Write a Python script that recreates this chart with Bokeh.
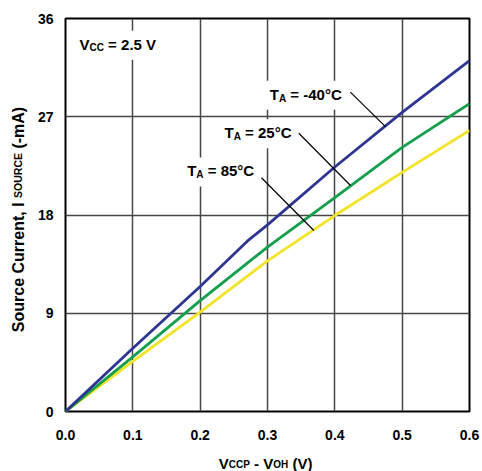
import math
from bokeh.plotting import figure
from bokeh.layouts import row, column
from bokeh.models import Range1d, Label, BoxAnnotation, FixedTicker, PrintfTickFormatter
from bokeh.embed import file_html
from bokeh.resources import INLINE

# ---------------- data ----------------
v_diff = [0.0, 0.1, 0.2, 0.27, 0.3, 0.4, 0.5, 0.6]
i_m40 = [0.0, 5.8, 11.45, 15.6, 17.1, 22.4, 27.4, 32.15]
i_25 = [0.0, 5.0, 10.15, 13.6, 15.05, 19.6, 24.2, 28.2]
i_85 = [0.0, 4.6, 9.1, 12.4, 13.8, 17.95, 21.9, 25.75]
x_ticks = [0.0, 0.1, 0.2, 0.3, 0.4, 0.5, 0.6]
y_ticks = [0, 9, 18, 27, 36]

# leader lines (data coords): start near label, end on curve
lead_x0 = [0.423, 0.3465, 0.291]
lead_y0 = [29.25, 25.49, 21.41]
lead_x1 = [0.4752, 0.4233, 0.3688]
lead_y1 = [26.1, 20.7, 16.58]

FONT = "Liberation Sans"
BLUE = "#2E3593"
GREEN = "#139F4C"
YELLOW = "#F3E42A"

FRAME_W, FRAME_H = 404, 393
X_PX = FRAME_W / 0.6
Y_PX = FRAME_H / 36.0

LEFT_W = 28
MAIN_W, MAIN_H = 454, 448
XT_H = 23
TOTAL_H = MAIN_H + XT_H
BORDER_L = 65 - LEFT_W
BORDER_R = MAIN_W - BORDER_L - FRAME_W


def base_fix(size):
    # Bokeh draws alphabetic-baseline text about 0.3 em lower than the anchor
    return 0.3 * size


p = figure(width=MAIN_W, height=MAIN_H, output_backend="svg", toolbar_location=None,
           x_range=Range1d(0, 0.6), y_range=Range1d(0, 36),
           min_border_left=BORDER_L, min_border_right=BORDER_R,
           min_border_top=18, min_border_bottom=MAIN_H - 18 - FRAME_H)
p.background_fill_color = "white"
p.border_fill_color = "white"
p.outline_line_color = "black"
p.outline_line_width = 2

for ax in (p.xaxis, p.yaxis):
    ax.axis_line_color = None
    ax.major_tick_line_color = None
    ax.minor_tick_line_color = None
    ax.major_tick_out = 0
    ax.major_tick_in = 0
    ax.major_label_text_font = FONT
    ax.major_label_text_font_style = "bold"
    ax.major_label_text_font_size = "14px"
    ax.major_label_text_color = "black"
p.xaxis.ticker = FixedTicker(ticks=x_ticks)
p.yaxis.ticker = FixedTicker(ticks=y_ticks)
p.xaxis.formatter = PrintfTickFormatter(format="%.1f")
p.xaxis.major_label_standoff = 18
p.yaxis.major_label_standoff = 12

p.grid.grid_line_color = "#474747"
p.grid.grid_line_width = 1.5
p.xgrid.ticker = FixedTicker(ticks=x_ticks)
p.ygrid.ticker = FixedTicker(ticks=y_ticks)

# ---------------- rich text helper ----------------
W = {' ': 278, '=': 584, '-': 333, '(': 333, ')': 333, '.': 278, ',': 278, '°': 400,
     'A': 722, 'C': 722, 'E': 667, 'H': 722, 'I': 278, 'O': 778, 'P': 667, 'R': 722,
     'S': 667, 'T': 611, 'U': 722, 'V': 667, 'm': 889, 'o': 611, 'u': 611, 'r': 389,
     'c': 556, 'e': 556, 'n': 611, 't': 333}


def tw(s, size):
    return sum(W.get(c, 556) for c in s) * size / 1000.0


def rich(fig, pieces, x, y, xs, ys, angle=0.0, box=False):
    total = sum(tw(t, s) for t, s, _ in pieces)
    if box:
        fig.add_layout(BoxAnnotation(left=x - 6 / xs, right=x + (total + 6) / xs,
                                     top=y + 18 / ys, bottom=y - 11 / ys,
                                     fill_color="white", fill_alpha=1.0, line_color=None,
                                     level="underlay"))
    cum = 0.0
    for text, size, dy in pieces:
        lead = len(text) - len(text.lstrip(" "))
        off = cum + tw(" " * lead, size)
        d = dy - base_fix(size)
        if angle == 0:
            lx, ly = x + off / xs, y - d / ys
        else:
            lx, ly = x + d / xs, y + off / ys
        fig.add_layout(Label(x=lx, y=ly, text=text.strip(" "), angle=angle,
                             text_font=FONT, text_font_style="bold",
                             text_font_size=f"{size}px", text_color="black",
                             text_align="left", text_baseline="alphabetic"))
        cum += tw(text, size)


# ---------------- curves ----------------
p.line(v_diff, i_85, line_color=YELLOW, line_width=2.8)
p.line(v_diff, i_25, line_color=GREEN, line_width=2.8)
p.line(v_diff, i_m40, line_color=BLUE, line_width=2.8)
p.segment(x0=lead_x0, y0=lead_y0, x1=lead_x1, y1=lead_y1, line_color="black", line_width=1.2)

# ---------------- annotations ----------------
rich(p, [("V", 15, 0), ("CC", 10, 1.2), (" = 2.5 V", 15, 0)], 0.0208, 33.22, X_PX, Y_PX, box=True)
rich(p, [("T", 15, 0), ("A", 10, 2.4), (" = -40°C", 15, 0)], 0.3034, 28.64, X_PX, Y_PX, box=True)
rich(p, [("T", 15, 0), ("A", 10, 2.4), (" = 25°C", 15, 0)], 0.2361, 25.13, X_PX, Y_PX, box=True)
rich(p, [("T", 15, 0), ("A", 10, 2.4), (" = 85°C", 15, 0)], 0.1807, 21.62, X_PX, Y_PX, box=True)


# ---------------- axis titles (own small figures) ----------------
def title_fig(w, h, x_range, left=0, right=0):
    f = figure(width=w, height=h, output_backend="svg", toolbar_location=None,
               x_range=x_range, y_range=Range1d(0, h),
               x_axis_type=None, y_axis_type=None, min_border=0,
               min_border_left=left, min_border_right=right)
    f.outline_line_color = None
    f.background_fill_color = "white"
    f.border_fill_color = "white"
    return f


# x title: frame aligned with the main plot frame, so it shares the data x scale
xt = title_fig(MAIN_W, XT_H, Range1d(0, 0.6), left=BORDER_L, right=BORDER_R)
rich(xt, [("V", 15, 0), ("CCP", 10, 0), (" - V", 15, 0), ("OH", 10, 0), (" (V)", 15, 0)],
     (218.3 - 65) / X_PX, TOTAL_H - 467, X_PX, 1.0)

# y title: pixel ranges
yt = title_fig(LEFT_W, TOTAL_H, Range1d(0, LEFT_W))
rich(yt, [("Source Current, I ", 16, 0), ("SOURCE", 10.5, -2), (" (-mA)", 16, 0)],
     23.0, TOTAL_H - 331.7, 1.0, 1.0, angle=math.pi / 2)

layout = row(yt, column(p, xt))
open("out.html", "w").write(file_html(layout, INLINE))
